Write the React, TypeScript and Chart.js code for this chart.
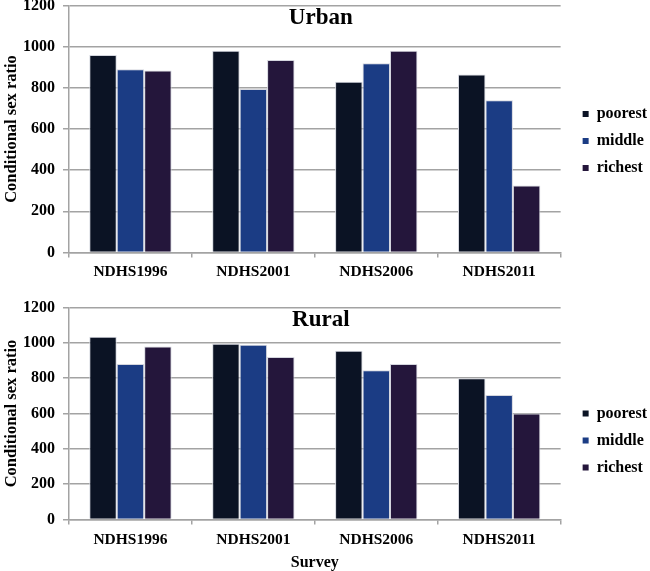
import React, { useEffect, useRef } from "react";
import { Chart, registerables } from "chart.js";

Chart.register(...registerables);

const categories = ["NDHS1996", "NDHS2001", "NDHS2006", "NDHS2011"];
const seriesNames = ["poorest", "middle", "richest"];
const urbanPoorest = [960, 980, 830, 865];
const urbanMiddle = [890, 795, 920, 740];
const urbanRichest = [885, 935, 980, 325];
const ruralPoorest = [1035, 995, 955, 800];
const ruralMiddle = [880, 990, 845, 705];
const ruralRichest = [980, 920, 880, 600];
const yTicks = [0, 200, 400, 600, 800, 1000, 1200];
const seriesColors = ["#0b1324", "#1b3c84", "#24163b"];

const FONT = "'Liberation Serif', 'Times New Roman', serif";
const GRID = "#a3a3a3";

const inlineTitle = {
  id: "inlineTitle",
  afterDraw(chart: any, _args: any, opts: any) {
    const { ctx, chartArea } = chart;
    ctx.save();
    ctx.font = `bold ${opts.size}px ${FONT}`;
    ctx.fillStyle = "#000";
    ctx.textAlign = "center";
    ctx.textBaseline = "middle";
    ctx.fillText(opts.text, (chartArea.left + chartArea.right) / 2 + opts.dx, chartArea.top + opts.dy);
    ctx.restore();
  },
};

type PanelProps = {
  title: string;
  values: number[][];
  top: number;
  height: number;
  xTitle: string;
  legendShift: number;
  tickPad: number;
};

function Panel({ title, values, top, height, xTitle, legendShift, tickPad }: PanelProps) {
  const ref = useRef<HTMLCanvasElement>(null);
  useEffect(() => {
    if (!ref.current) return;
    const chart = new Chart(ref.current, {
      type: "bar",
      data: {
        labels: categories,
        datasets: seriesNames.map((name, i) => ({
          label: name,
          data: values[i],
          backgroundColor: seriesColors[i],
          borderColor: "#d4d6de",
          borderWidth: 1,
          barPercentage: 1,
          categoryPercentage: 0.67,
        })),
      },
      options: {
        responsive: false,
        animation: false,
        devicePixelRatio: 1,
        layout: { padding: { right: -7, top: 0, bottom: 0, left: 0 } },
        plugins: {
          tooltip: { enabled: false },
          inlineTitle: { text: title, size: 23, dx: 6, dy: 12 },
          legend: {
            position: "right",
            title: {
              display: true,
              text: " ",
              font: { size: 1 },
              padding: { top: Math.max(0, legendShift * 2 - 1.2), bottom: 0 },
            },
            labels: {
              boxWidth: 6,
              boxHeight: 6,
              padding: 11,
              color: "#000",
              font: { family: FONT, size: 16, weight: "bold" },
              generateLabels: (c: any) =>
                Chart.defaults.plugins.legend.labels
                  .generateLabels(c)
                  .map((l: any) => ({ ...l, lineWidth: 0, strokeStyle: l.fillStyle })),
            },
          },
        } as any,
        scales: {
          x: {
            grid: {
              display: true,
              drawOnChartArea: false,
              drawTicks: true,
              tickLength: 5,
              color: GRID,
              lineWidth: 1.5,
            },
            border: { display: true, color: GRID, width: 1.5 },
            ticks: {
              color: "#000",
              padding: tickPad,
              maxRotation: 0,
              font: { family: FONT, size: 15.5, weight: "bold" },
            },
            title: {
              display: !!xTitle,
              text: xTitle,
              color: "#000",
              padding: { top: 0, bottom: 0 },
              font: { family: FONT, size: 16, weight: "bold", lineHeight: 1 },
            },
          },
          y: {
            min: 0,
            max: 1200,
            afterBuildTicks: (s: any) => {
              s.ticks = yTicks.map((v) => ({ value: v }));
            },
            afterFit: (s: any) => {
              s.width = 69;
            },
            grid: { color: GRID, lineWidth: 1.5, tickLength: 6, drawTicks: true },
            border: { display: true, color: GRID, width: 1.5 },
            ticks: {
              color: "#000",
              padding: 8,
              font: { family: FONT, size: 16, weight: "bold" },
              callback: (v: any) => String(v),
            },
            title: {
              display: true,
              text: "Conditional sex ratio",
              color: "#000",
              padding: { top: 2, bottom: 0 },
              font: { family: FONT, size: 16.5, weight: "bold" },
            },
          },
          y2: {
            position: "right",
            display: true,
            grid: { display: false, drawTicks: false },
            border: { display: false },
            ticks: { display: false },
            afterFit: (s: any) => {
              s.width = 11;
            },
          },
        },
      } as any,
      plugins: [inlineTitle as any],
    });
    return () => chart.destroy();
  }, []);
  return (
    <canvas
      ref={ref}
      width={650}
      height={height}
      style={{ position: "absolute", left: 0, top, width: 650, height }}
    />
  );
}

export default function App() {
  return (
    <div
      style={{
        position: "fixed",
        left: 0,
        top: 0,
        width: 650,
        height: 571,
        background: "#fff",
        overflow: "hidden",
      }}
    >
      <Panel
        title="Urban"
        values={[urbanPoorest, urbanMiddle, urbanRichest]}
        top={-12}
        height={298}
        xTitle=""
        legendShift={4}
        tickPad={5}
      />
      <Panel
        title="Rural"
        values={[ruralPoorest, ruralMiddle, ruralRichest]}
        top={290}
        height={281}
        xTitle="Survey"
        legendShift={10}
        tickPad={6}
      />
    </div>
  );
}
